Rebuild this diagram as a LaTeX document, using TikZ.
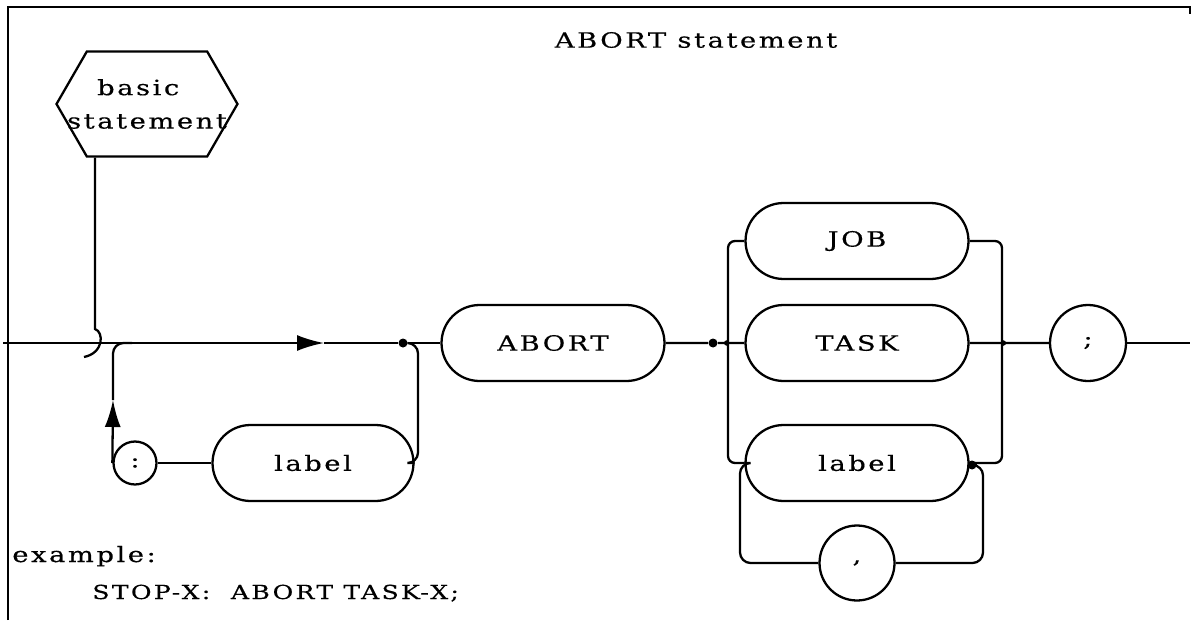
\documentclass[tikz,border=0pt]{standalone}
\usepackage{fontspec}
\setmainfont{DejaVu Serif}[FakeStretch=1.3,LetterSpace=12,FakeBold=0.4]
\usetikzlibrary{shapes.misc, shapes.symbols, arrows.meta, positioning}

\begin{document}
\begin{tikzpicture}[x=0.02cm, y=-0.02cm,
  txt/.style={font=\fontsize{12}{14}\selectfont, inner sep=0pt},
  term/.style={rounded rectangle, draw, line width=1.3pt,
               minimum width=4.46cm, minimum height=1.52cm, txt},
  sym/.style={circle, draw, line width=1.3pt, minimum size=1.52cm,
              inner sep=0pt, txt},
  flow/.style={line width=1.3pt},
  arr/.style={flow, -{Latex[length=0.54cm, width=0.32cm]}},
  jdot/.style={circle, fill, inner sep=0pt, minimum size=0.18cm}
]
  \useasboundingbox (0,0) rectangle (1192,625);

  % frame
  \draw[line width=1.6pt] (8,620) -- (8,7) -- (1190,7) -- (1190,14);

  \node[txt] (title) at (696,40) {ABORT statement};

  \node[signal, signal to=west and east, signal pointer angle=120, draw,
        line width=1.3pt, minimum width=3.62cm, minimum height=2.1cm,
        inner sep=0pt, align=center, txt] (basic) at (147,104)
        {\makebox[0pt]{basic\hspace{10pt}}\\[5pt]\makebox[0pt]{statement}};

  % optional label part
  \node[sym, minimum size=0.86cm] (colon) at (135,463) {:};
  \node[term, minimum width=4.02cm] (lbl) at (313,463) {label};
  \node[term] (abort) at (553,343) {ABORT};

  % alternatives
  \node[term] (job)  at (857,241) {JOB};
  \node[term] (task) at (857,343) {TASK};
  \node[term] (lbl2) at (857,463) {label};
  \node[sym, minimum size=1.5cm] (comma) at (857,563) {,};
  \node[sym] (semi) at (1088,343) {;};

  \coordinate (in)   at (3,343);
  \coordinate (join) at (95,343);
  \coordinate (a1)   at (324,343);
  \coordinate (a2)   at (113,400);
  \coordinate (lb)   at (721,343);
  \coordinate (rb)   at (1009,343);
  \coordinate (out)  at (1190,343);
  \node[jdot] (d1) at (403,343) {};
  \node[jdot] (d2) at (713,343) {};
  \node[jdot] (d3) at (972,465) {};

  % main line
  \draw[arr] (in) -- (a1);
  \draw[flow] (a1) -- (d1) -- (abort);
  \draw[flow] (abort) -- (d2) -- (lb) -- (task);
  \draw[flow] (task) -- (rb) -- (semi);
  \draw[flow] (semi) -- (out);

  % basic statement joins the line
  \draw[flow] (basic.south -| join) -- (95,329)
    .. controls (104,332) and (104,353) .. (84,357);

  % label : loop
  \draw[flow] (lbl) -- (colon);
  \draw[flow, rounded corners=6] (d1) -- ++(15,0) |- (lbl.east);
  \draw[arr] (colon.west) -- (a2);
  \draw[flow, rounded corners=6] (a2) |- (132,343);

  % brackets round the alternatives
  \draw[flow, rounded corners=4] (job.west) -- (728,241) -- (728,335)
    .. controls (728,341) .. (lb) .. controls (728,345) .. (728,351)
    -- (728,463) -- (lbl2.west);
  \draw[flow, rounded corners=4] (job.east) -- (1002,241) -- (1002,335)
    .. controls (1002,341) .. (rb) .. controls (1002,345) .. (1002,351)
    -- (1002,463) -- (lbl2.east);

  % comma loop
  \draw[flow, rounded corners=6] (d3) -- ++(11,0) |- (comma.east);
  \draw[flow, rounded corners=6] (comma.west) -| (740,463) -- (lbl2.west);

  % example
  \node[txt, anchor=base west] (exlbl) at (12,562) {example:};
  \node[txt, anchor=base west, font=\fontsize{11}{13}\selectfont] (exstmt)
    at (92,599) {STOP-X:\ \ ABORT TASK-X;};
\end{tikzpicture}
\end{document}
